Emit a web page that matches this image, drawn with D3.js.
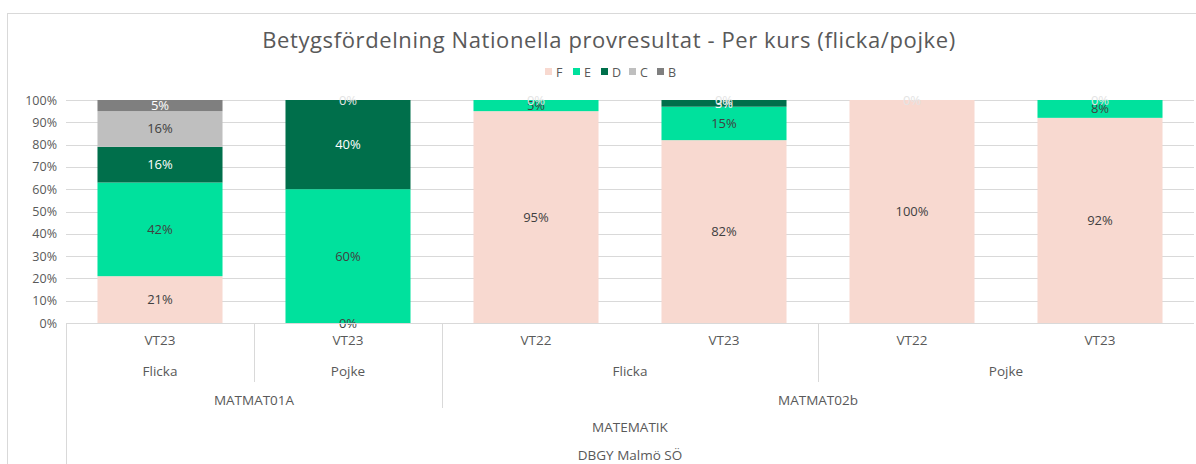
<!DOCTYPE html>
<html><head><meta charset="utf-8">
<script src="https://cdn.jsdelivr.net/npm/d3@7"></script>
<style>body{margin:0;background:#fff;} svg{display:block;}</style>
</head><body><svg id="c" width="1196" height="464"></svg>
<script>
const seriesNames = ["F","E","D","C","B"];
const seriesColors = ["#f8d9d0","#00e19d","#006f4b","#bfbfbf","#7f7f7f"];
const labelColors = ["#404040","#404040","#ffffff","#404040","#ffffff"];
const terms = ["VT23","VT23","VT22","VT23","VT22","VT23"];
const genders = ["Flicka","Pojke","Flicka","Flicka","Pojke","Pojke"];
const courses = ["MATMAT01A","MATMAT01A","MATMAT02b","MATMAT02b","MATMAT02b","MATMAT02b"];
const subjects = ["MATEMATIK","MATEMATIK","MATEMATIK","MATEMATIK","MATEMATIK","MATEMATIK"];
const schools = ["DBGY Malmö SÖ","DBGY Malmö SÖ","DBGY Malmö SÖ","DBGY Malmö SÖ","DBGY Malmö SÖ","DBGY Malmö SÖ"];
// values per series, per category (null = no segment/label)
const valF = [21, 0, 95, 82, 100, 92];
const valE = [42, 60, 5, 15, 0, 8];
const valD = [16, 40, 0, 3, null, 0];
const valC = [16, 0, null, 0, null, null];
const valB = [5, null, null, null, null, null];
const yTicks = [0,10,20,30,40,50,60,70,80,90,100];
const title = "Betygsfördelning Nationella provresultat - Per kurs (flicka/pojke)";

const values = [valF,valE,valD,valC,valB];
const font = "'Open Sans', sans-serif";
const svg = d3.select("#c");
const textCol = "#595959";

// outer border
svg.append("rect").attr("x",7.5).attr("y",13.5).attr("width",1200).attr("height",460)
  .attr("fill","none").attr("stroke","#d9d9d9");

const x0 = 66, x1 = 1194, yTop = 100, yBot = 323;
const x = d3.scaleBand().domain(d3.range(terms.length)).range([x0,x1]).paddingInner(0.335).paddingOuter(0.1675);
const y = d3.scaleLinear().domain([0,100]).range([yBot,yTop]);

// title
svg.append("text").attr("x",609).attr("y",48).attr("text-anchor","middle")
  .attr("font-family",font).attr("font-size",22).attr("letter-spacing","0.6px").attr("fill",textCol).text(title);

// legend
const lg = svg.append("g");
const lgX = 545, lgStep = 28;
seriesNames.forEach((s,i)=>{
  lg.append("rect").attr("x",lgX+i*lgStep).attr("y",68).attr("width",7).attr("height",7).attr("fill",seriesColors[i]);
  lg.append("text").attr("x",lgX+i*lgStep+11).attr("y",76.5).attr("font-family",font).attr("font-size",12.5).attr("fill",textCol).text(s);
});

// gridlines
svg.append("g").selectAll("line").data(yTicks).join("line")
  .attr("x1",x0).attr("x2",x1).attr("y1",d=>Math.round(y(d))+0.5).attr("y2",d=>Math.round(y(d))+0.5)
  .attr("stroke","#d9d9d9").attr("stroke-width",1);

// y axis labels
const yAxis = d3.axisLeft(y).tickValues(yTicks).tickFormat(d=>d+"%").tickSize(0).tickPadding(9);
const ga = svg.append("g").attr("transform",`translate(${x0},0)`).call(yAxis);
ga.select(".domain").remove();
ga.selectAll("text").attr("font-family",font).attr("font-size",12.5).attr("fill",textCol);

// bars
const segs = [];
terms.forEach((t,ci)=>{
  let acc = 0;
  values.forEach((arr,si)=>{
    const v = arr[ci];
    if (v===null) return;
    segs.push({ci,si,v,y0:acc,y1:acc+v});
    acc += v;
  });
});
svg.append("g").selectAll("rect").data(segs.filter(d=>d.v>0)).join("rect")
  .attr("x",d=>x(d.ci)).attr("width",x.bandwidth())
  .attr("y",d=>y(d.y1)).attr("height",d=>y(d.y0)-y(d.y1))
  .attr("fill",d=>seriesColors[d.si]);

svg.append("g").selectAll("text").data(segs).join("text")
  .attr("x",d=>x(d.ci)+x.bandwidth()/2)
  .attr("y",d=>y((d.y0+d.y1)/2)+4.5)
  .attr("text-anchor","middle").attr("font-family",font).attr("font-size",13)
  .attr("fill",d=> d.v===0 && d.y0>=100 ? "#e4e4e4" : labelColors[d.si])
  .text(d=>d.v+"%");

// category axis
svg.append("line").attr("x1",x0).attr("x2",x1).attr("y1",yBot+0.5).attr("y2",yBot+0.5).attr("stroke","#d9d9d9");
const levels = [terms,genders,courses,subjects,schools];
const rowY = [345,376,405,432,460];
const rowBottom = [355,382,408,436,470];
const step = x.step();
function groupsFor(li){
  const g = [];
  terms.forEach((_,ci)=>{
    const key = levels.slice(li).map(l=>l[ci]).join("|");
    if (g.length && g[g.length-1].key===key) g[g.length-1].end = ci;
    else g.push({key,label:levels[li][ci],start:ci,end:ci});
  });
  return g;
}
levels.forEach((lv,li)=>{
  const g = groupsFor(li);
  svg.append("g").selectAll("text").data(g).join("text")
    .attr("x",d=>x0+step*(d.start+d.end+1)/2).attr("y",rowY[li])
    .attr("text-anchor","middle").attr("font-family",font).attr("font-size",13.5).attr("fill",textCol)
    .text(d=>d.label);
});
// separators
const seps = [{pos:0,depth:4}];
for (let ci=1; ci<terms.length; ci++){
  let depth = -1;
  for (let li=levels.length-1; li>=1; li--){
    if (levels.slice(li).map(l=>l[ci]).join("|") !== levels.slice(li).map(l=>l[ci-1]).join("|")) { depth = li; break; }
  }
  if (depth>=1) seps.push({pos:ci,depth});
}
svg.append("g").selectAll("line").data(seps).join("line")
  .attr("x1",d=>Math.round(x0+step*d.pos)+0.5).attr("x2",d=>Math.round(x0+step*d.pos)+0.5)
  .attr("y1",yBot).attr("y2",d=>rowBottom[d.depth])
  .attr("stroke","#d9d9d9");
</script></body></html>
